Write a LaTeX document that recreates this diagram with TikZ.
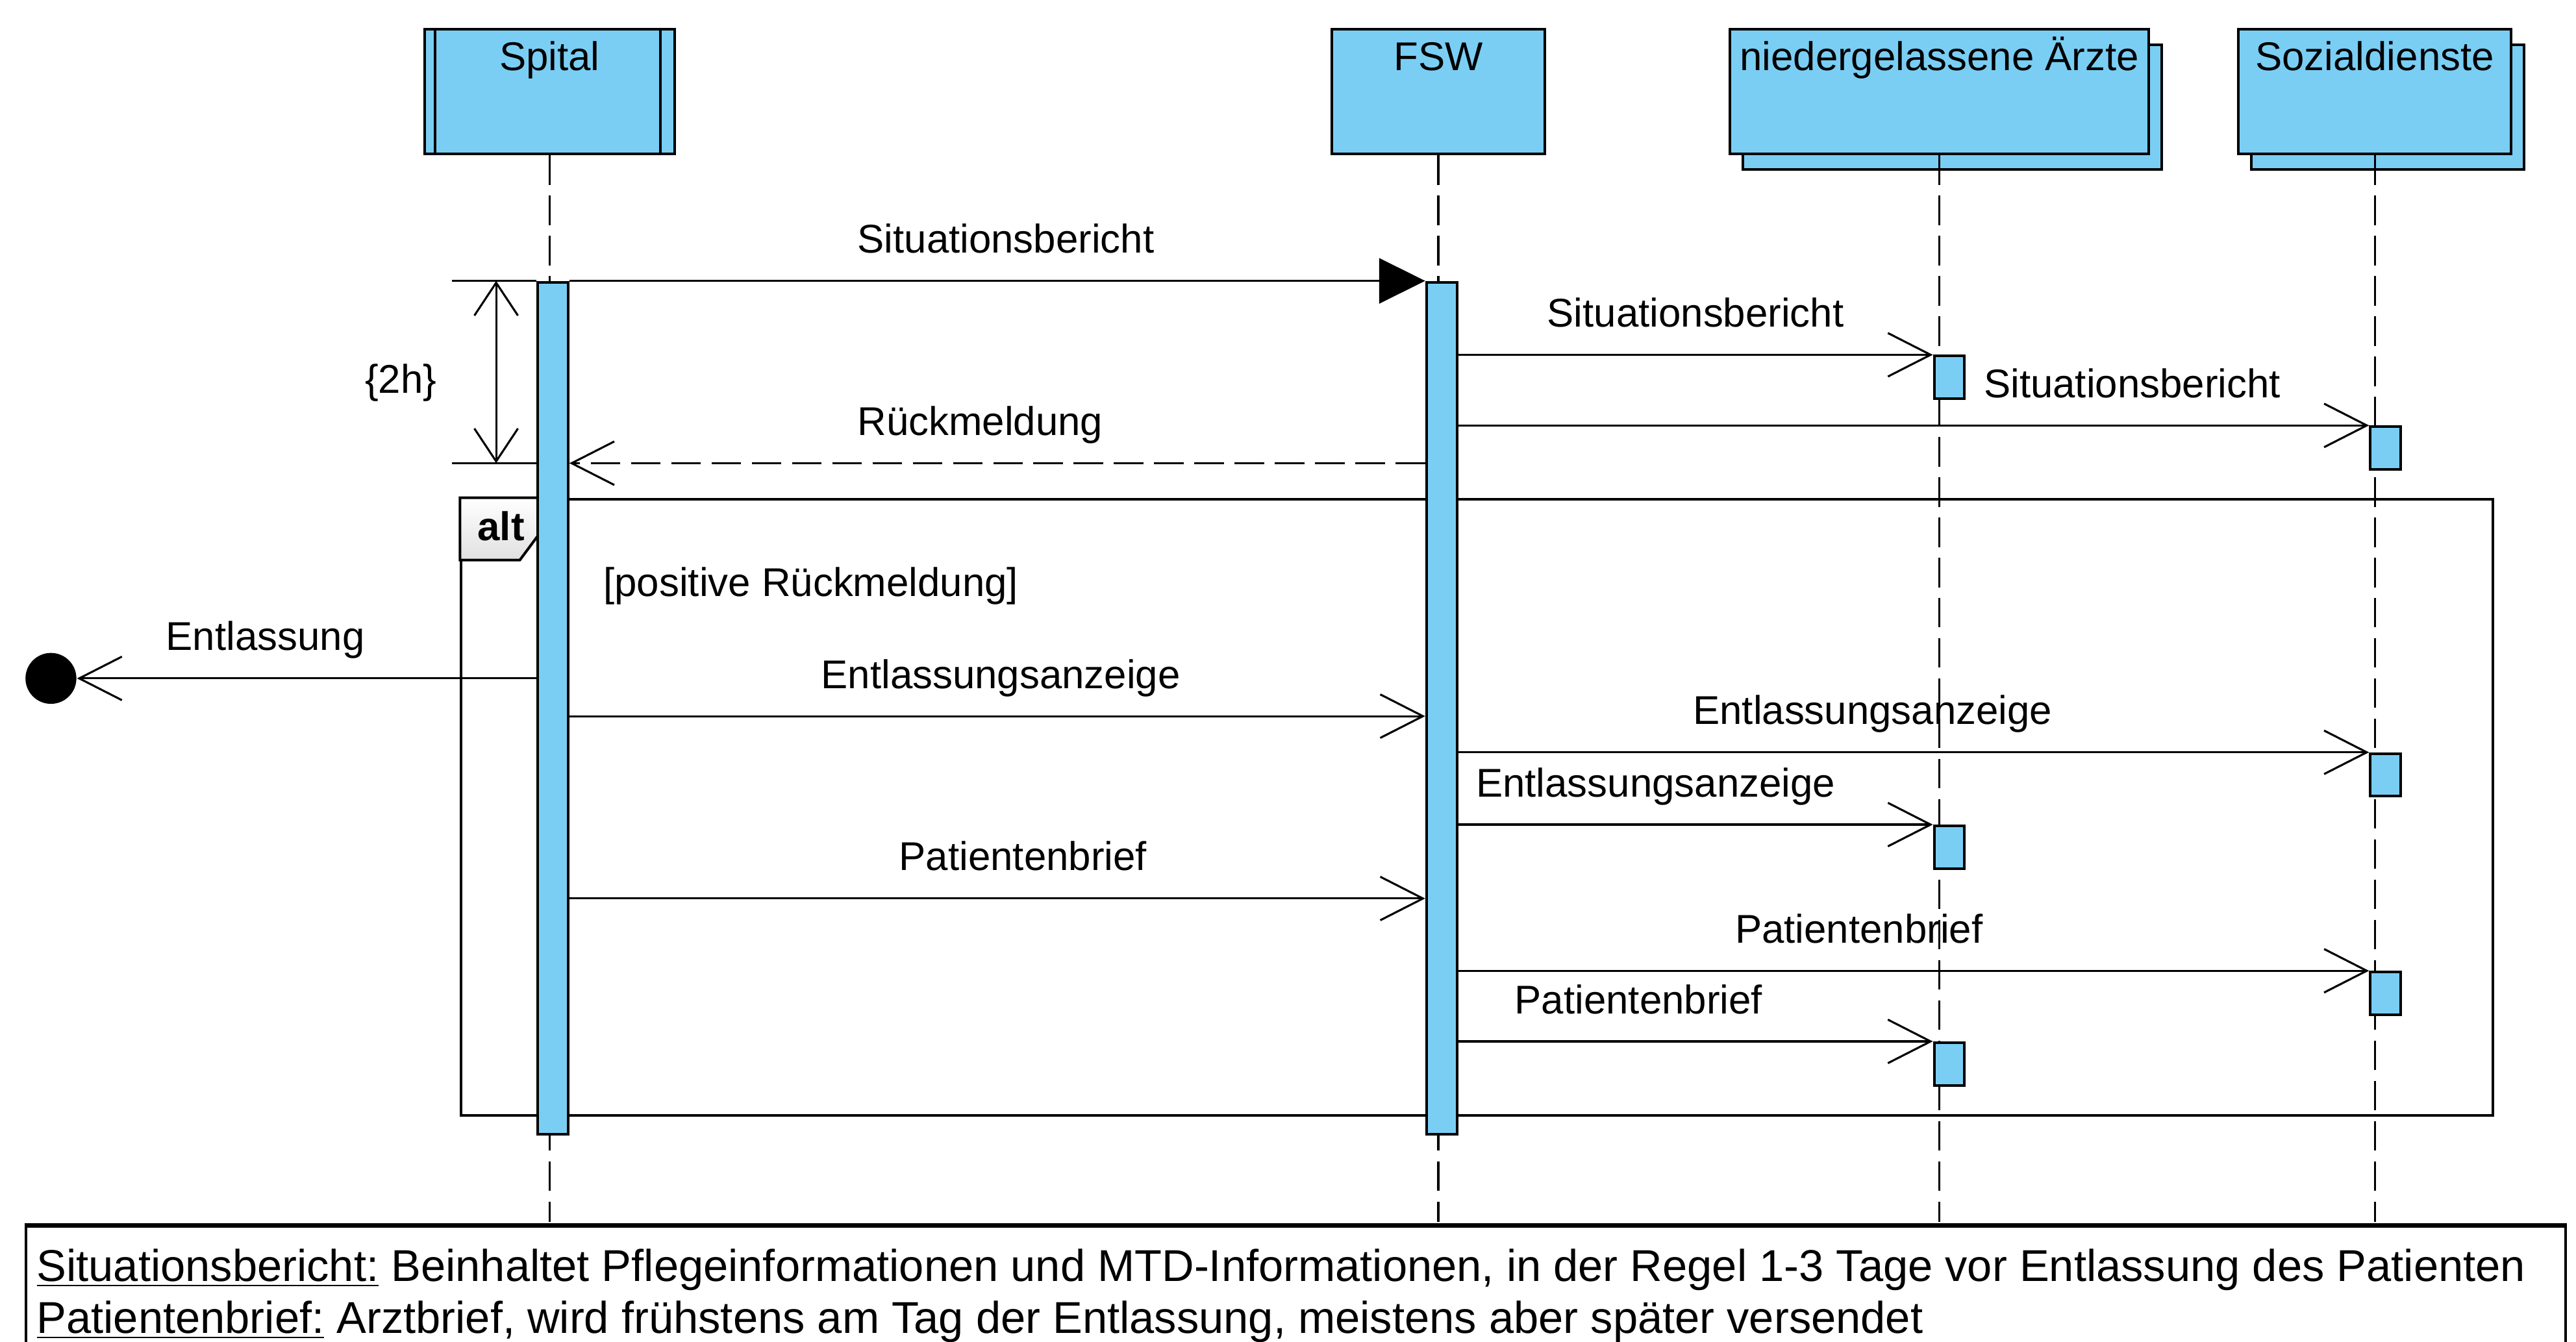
\documentclass[tikz,border=0pt]{standalone}
\usepackage{fontspec}
\setmainfont{Liberation Sans}[Ligatures=CommonOff]
\usetikzlibrary{arrows.meta,shadows}

\definecolor{lifecyan}{RGB}{122,206,244}

\begin{document}
\begin{tikzpicture}[x=0.02cm, y=-0.02cm,
  font=\fontsize{13.9}{16}\selectfont,
  head/.style={draw, line width=0.9pt, fill=lifecyan, anchor=north, inner sep=0pt, text height=0.5cm, text depth=1.02cm},
  multi/.style={copy shadow={shadow xshift=0.16cm, shadow yshift=-0.19cm}},
  bar/.style={draw, line width=0.9pt, fill=lifecyan, anchor=north west, minimum width=0.37cm, inner sep=0pt},
  lifeline/.style={line width=0.7pt, dash pattern=on 0.36cm off 0.13cm},
  msg/.style={line width=0.7pt, -{Straight Barb[length=0.52cm, width=0.53cm]}},
  lbl/.style={anchor=base, yshift=0.34cm, inner sep=0pt},
  note/.style={anchor=base west, inner sep=0pt, font=\fontsize{15.45}{19}\selectfont}]
  \useasboundingbox (0,0) rectangle (1568,817);

  \node[head, minimum width=3.04cm] (spital) at (334.5,17) {Spital};
  \node[head, minimum width=2.6cm] (fsw) at (875.5,17) {FSW};
  \node[head, multi, minimum width=5.1cm] (aerzte) at (1180.5,17) {niedergelassene Ärzte};
  \node[head, multi, minimum width=3.32cm] (sozial) at (1445.5,17) {Sozialdienste};
  \draw[line width=0.9pt] ([xshift=0.14cm]spital.north west) -- ([xshift=0.14cm]spital.south west);
  \draw[line width=0.9pt] ([xshift=-0.19cm]spital.north east) -- ([xshift=-0.19cm]spital.south east);

  \node[draw, line width=0.9pt, anchor=north west, minimum width=30.92cm, minimum height=2cm, inner sep=0pt] (legend) at (15,746) {};
  \draw[line width=1.3pt] (legend.north west) -- (legend.north east);

  \draw[lifeline] (spital.south) -- ([yshift=0.04cm]spital.south |- legend.north);
  \draw[lifeline] (fsw.south) -- ([yshift=0.04cm]fsw.south |- legend.north);
  \draw[lifeline] (aerzte.south) -- ([yshift=0.04cm]aerzte.south |- legend.north);
  \draw[lifeline] (sozial.south) -- ([yshift=0.04cm]sozial.south |- legend.north);

  \node[draw, line width=0.9pt, anchor=north west, minimum width=24.74cm, minimum height=7.51cm, inner sep=0pt] (alt) at (280,303) {};
  \draw[line width=0.9pt, top color=white, bottom color=black!12] (alt.north west) -- ++(49,0) -- ++(0,21) -- ++(-12.6,17) -- ++(-36.4,0) -- cycle;
  \node[font=\bfseries\fontsize{13.9}{16}\selectfont, anchor=base, inner sep=0pt] (altlbl) at (305,329) {alt};
  \node[anchor=base west, inner sep=0pt] (guard) at (367,363) {[positive Rückmeldung]};

  \node[bar, minimum height=10.38cm] (spitalbar) at (326.5,171) {};
  \node[bar, minimum height=10.38cm] (fswbar) at (867.5,171) {};
  \node[bar, minimum height=0.52cm] (a1) at (1176.5,216) {};
  \node[bar, minimum height=0.52cm] (a2) at (1176.5,502) {};
  \node[bar, minimum height=0.52cm] (a3) at (1176.5,634) {};
  \node[bar, minimum height=0.52cm] (s1) at (1442,259) {};
  \node[bar, minimum height=0.52cm] (s2) at (1442,458) {};
  \node[bar, minimum height=0.52cm] (s3) at (1442,591) {};

  \coordinate (rueck) at (334,282);
  \coordinate (dur1) at (275,171);
  \coordinate (dur2) at (275,282);
  \coordinate (dtop) at (302,171);
  \coordinate (dbot) at (302,282);
  \path[draw, line width=0.7pt] (dur1) -- (spitalbar.north west);
  \path[draw, line width=0.7pt] (dur2) -- (spitalbar.west |- rueck);
  \path[draw, line width=0.7pt, {Straight Barb[length=0.4cm, width=0.53cm]}-{Straight Barb[length=0.4cm, width=0.53cm]}] (dtop) -- (dbot);
  \node (dauer) at (244,233) {\{2h\}};

  \path[draw, line width=0.7pt, -{Triangle[length=0.56cm, width=0.55cm]}] (spitalbar.north east) -- node[lbl, pos=0.51] (sit1) {Situationsbericht} (fswbar.north west);
  \path[draw, msg] (fswbar.east |- a1.north) -- node[lbl, pos=0.5] (sit2) {Situationsbericht} (a1.north west);
  \path[draw, msg] (fswbar.east |- s1.north) -- node[lbl, pos=0.74] (sit3) {Situationsbericht} (s1.north west);
  \path[draw, msg, dash pattern=on 0.36cm off 0.13cm] (fswbar.west |- rueck) -- node[lbl, pos=0.52] (rm) {Rückmeldung} (spitalbar.east |- rueck);

  \node[circle, fill, inner sep=0pt, minimum size=0.62cm] (ende) at (31,413) {};
  \coordinate (entl) at (334,413);
  \path[draw, msg] (spitalbar.west |- entl) -- node[lbl, pos=0.59] (entlbl) {Entlassung} (ende);

  \coordinate (anz) at (334,436);
  \path[draw, msg] (spitalbar.east |- anz) -- node[lbl, pos=0.504] (anz1) {Entlassungsanzeige} (fswbar.west |- anz);
  \path[draw, msg] (fswbar.east |- s2.north) -- node[lbl, pos=0.455] (anz2) {Entlassungsanzeige} (s2.north west);
  \path[draw, msg] (fswbar.east |- a2.north) -- node[lbl, pos=0.416] (anz3) {Entlassungsanzeige} (a2.north west);

  \coordinate (brief) at (334,547);
  \path[draw, msg] (spitalbar.east |- brief) -- node[lbl, pos=0.53] (brief1) {Patientenbrief} (fswbar.west |- brief);
  \path[draw, msg] (fswbar.east |- s3.north) -- node[lbl, pos=0.44] (brief2) {Patientenbrief} (s3.north west);
  \path[draw, msg] (fswbar.east |- a3.north) -- node[lbl, pos=0.38] (brief3) {Patientenbrief} (a3.north west);

  \node[note] (note1) at (22,780) {\underline{Situationsbericht:} Beinhaltet Pflegeinformationen und MTD-Informationen, in der Regel 1-3 Tage vor Entlassung des Patienten};
  \node[note] (note2) at (22,811.5) {\underline{Patientenbrief:} Arztbrief, wird frühstens am Tag der Entlassung, meistens aber später versendet};
\end{tikzpicture}
\end{document}
